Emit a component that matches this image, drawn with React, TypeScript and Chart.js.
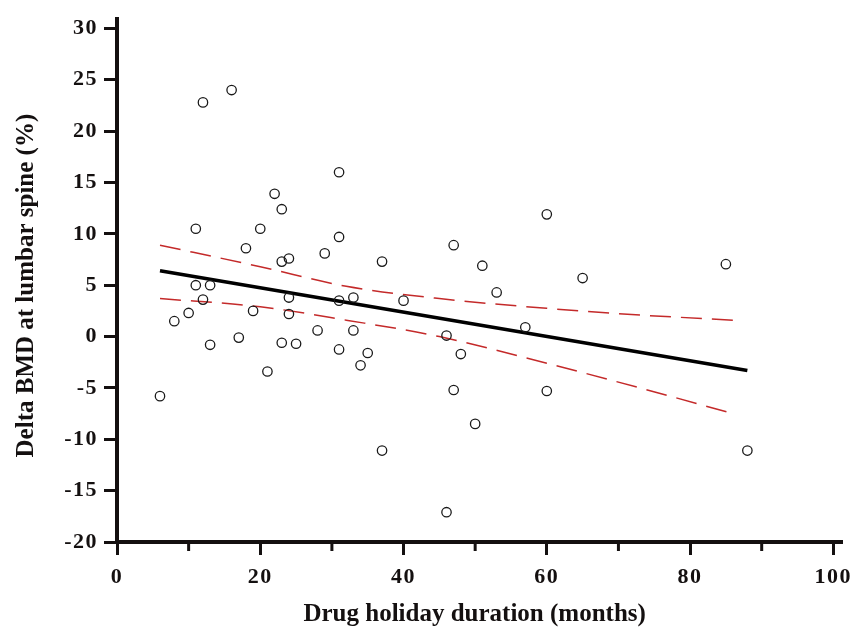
import { useEffect, useRef } from 'react';
import { Chart, registerables } from 'chart.js';

Chart.register(...registerables);

// ---- data ----
const holidayMonths = [6, 8, 10, 11, 11, 12, 12, 13, 13, 16, 17, 18, 19, 20, 21, 22, 23, 23, 23, 24, 24, 24, 25, 28, 29, 31, 31, 31, 31, 33, 33, 34, 35, 37, 37, 40, 46, 46, 47, 47, 48, 50, 51, 53, 57, 60, 60, 65, 85, 88];
const deltaBMD = [-5.8, 1.5, 2.3, 10.5, 5.0, 22.8, 3.6, 5.0, -0.8, 24.0, -0.1, 8.6, 2.5, 10.5, -3.4, 13.9, 12.4, 7.3, -0.6, 7.6, 3.8, 2.2, -0.7, 0.6, 8.1, 16.0, 9.7, 3.5, -1.25, 3.8, 0.6, -2.8, -1.6, 7.3, -11.1, 3.5, 0.1, -17.1, 8.9, -5.2, -1.7, -8.5, 6.9, 4.3, 0.9, 11.9, -5.3, 5.7, 7.05, -11.1];

const fitX = [6, 88];
const fitY = [6.4, -3.3];

const bandX = [6, 20, 32, 45, 60, 73, 86];
const upperBand = [8.9, 6.8, 4.9, 3.7, 2.75, 2.1, 1.6];
const lowerBand = [3.7, 2.9, 1.6, 0.0, -2.6, -5.0, -7.5];

const xTicks = [0, 20, 40, 60, 80, 100];
const xMinorTicks = [10, 30, 50, 70, 90];
const yTicks = [-20, -15, -10, -5, 0, 5, 10, 15, 20, 25, 30];

const xTitle = 'Drug holiday duration (months)';
const yTitle = 'Delta BMD at lumbar spine (%)';

const INK = '#141010';
const BAND = '#c42a2a';
const SERIF = '"Liberation Serif", "Times New Roman", serif';

const axisDecor = {
  id: 'axisDecor',
  beforeDraw(chart: any) {
    chart.ctx.letterSpacing = '1.5px';
  },
  afterDraw(chart: any) {
    const { ctx, chartArea, scales } = chart;
    ctx.save();
    ctx.letterSpacing = '0px';
    // minor ticks on x axis
    ctx.strokeStyle = INK;
    ctx.lineWidth = 3;
    const y0 = scales.x.top + 2;
    xMinorTicks.forEach((v) => {
      const px = scales.x.getPixelForValue(v);
      ctx.beginPath();
      ctx.moveTo(px, y0);
      ctx.lineTo(px, y0 + 7);
      ctx.stroke();
    });
    // axis titles
    ctx.fillStyle = INK;
    ctx.font = `bold 25px ${SERIF}`;
    ctx.textAlign = 'center';
    ctx.textBaseline = 'alphabetic';
    ctx.fillText(xTitle, (chartArea.left + chartArea.right) / 2 - 5, chartArea.bottom + 78.5);
    ctx.translate(chartArea.left - 84, (chartArea.top + chartArea.bottom) / 2 + 5);
    ctx.rotate(-Math.PI / 2);
    ctx.fillText(yTitle, 0, 0);
    ctx.restore();
  },
};

export default function App() {
  const ref = useRef<HTMLCanvasElement | null>(null);

  useEffect(() => {
    if (!ref.current) return;
    const points = holidayMonths.map((x, i) => ({ x, y: deltaBMD[i] }));
    const fit = fitX.map((x, i) => ({ x, y: fitY[i] }));
    const upper = bandX.map((x, i) => ({ x, y: upperBand[i] }));
    const lower = bandX.map((x, i) => ({ x, y: lowerBand[i] }));

    const tickFont = { family: SERIF, size: 22, weight: 'bold' as const };

    const chart = new Chart(ref.current, {
      type: 'scatter',
      data: {
        datasets: [
          {
            data: points,
            pointStyle: 'circle',
            pointRadius: 4.7,
            pointBorderWidth: 1.3,
            pointBorderColor: '#1a1a1a',
            pointBackgroundColor: 'rgba(0,0,0,0)',
            showLine: false,
          },
          {
            data: fit,
            showLine: true,
            borderColor: '#000000',
            borderWidth: 3.5,
            pointRadius: 0,
          },
          {
            data: upper,
            showLine: true,
            borderColor: BAND,
            borderWidth: 1.5,
            borderDash: [21, 10],
            pointRadius: 0,
            cubicInterpolationMode: 'monotone',
          },
          {
            data: lower,
            showLine: true,
            borderColor: BAND,
            borderWidth: 1.5,
            borderDash: [21, 10],
            pointRadius: 0,
            cubicInterpolationMode: 'monotone',
          },
        ],
      },
      options: {
        animation: false,
        responsive: false,
        devicePixelRatio: 1,
        layout: { padding: { top: 13, right: 14, left: 0, bottom: 0 } },
        plugins: {
          legend: { display: false },
          tooltip: { enabled: false },
        },
        scales: {
          x: {
            type: 'linear',
            min: 0,
            max: 101.25,
            afterBuildTicks: (scale: any) => {
              scale.ticks = xTicks.map((v) => ({ value: v }));
            },
            afterFit: (scale: any) => {
              scale.height = 86;
            },
            grid: {
              drawOnChartArea: false,
              drawTicks: true,
              tickLength: 13,
              tickWidth: 3,
              tickColor: INK,
            },
            border: { display: true, width: 4, color: INK },
            ticks: {
              font: tickFont,
              color: INK,
              padding: 9,
              maxRotation: 0,
              autoSkip: false,
            },
            title: { display: false },
          },
          y: {
            type: 'linear',
            min: -20,
            max: 30.9,
            afterBuildTicks: (scale: any) => {
              scale.ticks = yTicks.map((v) => ({ value: v }));
            },
            afterFit: (scale: any) => {
              scale.width = 117;
            },
            grid: {
              drawOnChartArea: false,
              drawTicks: true,
              tickLength: 13,
              tickWidth: 3,
              tickColor: INK,
            },
            border: { display: true, width: 4, color: INK },
            ticks: {
              font: tickFont,
              color: INK,
              padding: 6,
              autoSkip: false,
            },
            title: { display: false },
          },
        },
      },
      plugins: [axisDecor],
    });

    return () => chart.destroy();
  }, []);

  return (
    <div style={{ position: 'fixed', left: 0, top: 0, width: 859, height: 628, background: '#ffffff' }}>
      <canvas ref={ref} width={859} height={628} />
    </div>
  );
}
